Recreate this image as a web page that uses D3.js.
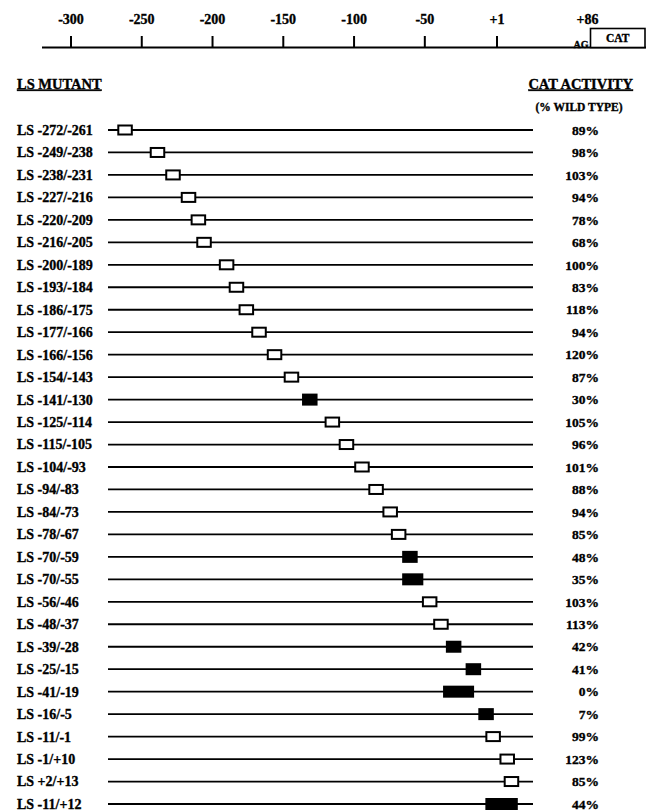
<!DOCTYPE html>
<html><head><meta charset="utf-8">
<script src="https://cdn.jsdelivr.net/npm/d3@7"></script>
<style>
html,body{margin:0;padding:0;background:#fff;}
text{font-family:"Liberation Serif","Times New Roman",serif;font-weight:bold;fill:#000;stroke:#000;stroke-width:0.35px;}
</style></head>
<body>
<svg id="chart" width="646" height="811"></svg>
<script>
// ---- data ----
const axisTicks = [-300, -250, -200, -150, -100, -50, 1];
const axisTickLabels = ["-300", "-250", "-200", "-150", "-100", "-50", "+1"];
const capSite = 86;
const capLabel = "+86";

const mutantLabels = [
  "LS -272/-261","LS -249/-238","LS -238/-231","LS -227/-216","LS -220/-209","LS -216/-205",
  "LS -200/-189","LS -193/-184","LS -186/-175","LS -177/-166","LS -166/-156","LS -154/-143",
  "LS -141/-130","LS -125/-114","LS -115/-105","LS -104/-93","LS -94/-83","LS -84/-73",
  "LS -78/-67","LS -70/-59","LS -70/-55","LS -56/-46","LS -48/-37","LS -39/-28",
  "LS -25/-15","LS -41/-19","LS -16/-5","LS -11/-1","LS -1/+10","LS +2/+13","LS -11/+12"
];
const mutStart = [-272,-249,-238,-227,-220,-216,-200,-193,-186,-177,-166,-154,-141,-125,-115,-104,-94,-84,-78,-70,-70,-56,-48,-39,-25,-41,-16,-11,-1,2,-11];
const mutEnd   = [-261,-238,-231,-216,-209,-205,-189,-184,-175,-166,-156,-143,-130,-114,-105,-93,-83,-73,-67,-59,-55,-46,-37,-28,-15,-19,-5,-1,10,13,12];
const catActivity = [89,98,103,94,78,68,100,83,118,94,120,87,30,105,96,101,88,94,85,48,35,103,113,42,41,0,7,99,123,85,44];
const isReduced = [0,0,0,0,0,0,0,0,0,0,0,0,1,0,0,0,0,0,0,1,1,0,0,1,1,1,1,0,0,0,1];

const rows = mutantLabels.map((l,i)=>({label:l,start:mutStart[i],end:mutEnd[i],act:catActivity[i],filled:isReduced[i]===1}));

// ---- layout ----
const svg = d3.select("#chart");
const topX = d3.scaleLinear().domain([-300, 1, capSite]).range([71, 497, 590.5]);
const rowX = d3.scaleLinear().domain([-272, 2]).range([117.3, 503.7]);
const y = d3.scalePoint().domain(d3.range(rows.length)).range([130, 804]);
const minSpan = 11; // drawn width of the schematic box, in bp, at minimum

// top axis
const axisY = 47.5;
svg.append("line").attr("x1",42).attr("x2",646).attr("y1",axisY).attr("y2",axisY)
  .attr("stroke","#000").attr("stroke-width",2);
const tg = svg.append("g");
tg.selectAll("line.tick").data(axisTicks).join("line")
  .attr("x1",d=>topX(d)).attr("x2",d=>topX(d)).attr("y1",36).attr("y2",axisY)
  .attr("stroke","#000").attr("stroke-width",2);
tg.selectAll("text.tl").data(axisTicks).join("text")
  .attr("x",d=>topX(d)).attr("y",24).attr("text-anchor","middle")
  .attr("font-size",14).text((d,i)=>axisTickLabels[i]);
svg.append("text").attr("x",topX(capSite)-3).attr("y",24).attr("text-anchor","middle")
  .attr("font-size",14).text(capLabel);
// CAT box
svg.append("rect").attr("x",topX(capSite)).attr("y",28.5).attr("width",646-topX(capSite)-1).attr("height",axisY-28.5)
  .attr("fill","#fff").attr("stroke","#000").attr("stroke-width",1.6);
svg.append("text").attr("x",(topX(capSite)+645)/2).attr("y",42).attr("text-anchor","middle")
  .attr("font-size",11.5).text("CAT");
svg.append("text").attr("x",topX(capSite)-2).attr("y",47.5).attr("text-anchor","end")
  .attr("font-size",10).text("AG");

// headers
svg.append("text").attr("x",17).attr("y",88.5).attr("font-size",14.5).attr("text-decoration","underline").text("LS MUTANT");
svg.append("text").attr("x",633).attr("y",88.5).attr("text-anchor","end").attr("font-size",14.5).attr("text-decoration","underline").text("CAT ACTIVITY");
svg.append("text").attr("x",579).attr("y",111).attr("text-anchor","middle").attr("font-size",11.5).text("(% WILD TYPE)");

// rows
const rg = svg.selectAll("g.row").data(rows).join("g").attr("class","row")
  .attr("transform",(d,i)=>`translate(0,${y(i)})`);
rg.append("text").attr("x",17).attr("y",0).attr("dy","0.35em").attr("font-size",14).text(d=>d.label);
rg.append("line").attr("x1",108).attr("x2",533).attr("y1",0).attr("y2",0)
  .attr("stroke","#000").attr("stroke-width",1.8);
const boxW = d => rowX(d.start + Math.max(d.end - d.start, minSpan)) - rowX(d.start);
rg.append("rect")
  .attr("x",d=>d.filled ? rowX(d.start) : rowX(d.start)+1)
  .attr("width",d=>d.filled ? boxW(d) : boxW(d)-2)
  .attr("y",d=>d.filled?-6:-4.5).attr("height",d=>d.filled?12:9)
  .attr("fill",d=>d.filled?"#000":"#fff")
  .attr("stroke","#000").attr("stroke-width",d=>d.filled?0:2);
rg.append("text").attr("x",599).attr("y",0).attr("dy","0.35em").attr("text-anchor","end")
  .attr("font-size",13.5).text(d=>d.act+"%");
</script>
</body></html>
